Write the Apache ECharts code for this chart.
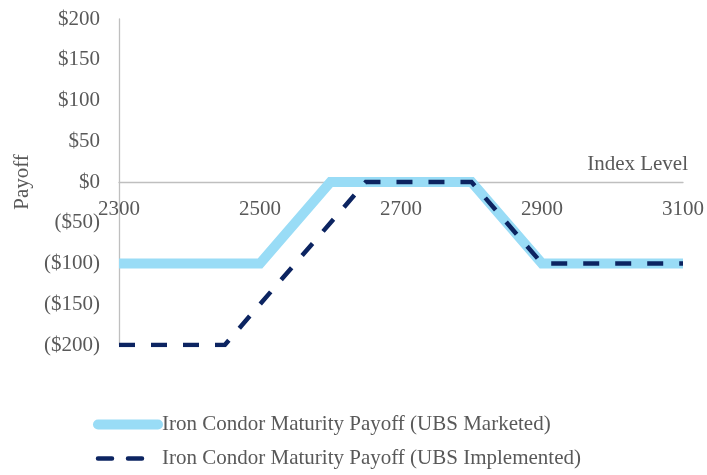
<!DOCTYPE html>
<html>
<head>
<meta charset="utf-8">
<script src="https://cdn.jsdelivr.net/npm/echarts@6/dist/echarts.min.js"></script>
<style>
  html, body { margin: 0; padding: 0; background: #fff; }
  #chart { width: 707px; height: 475px; }
</style>
</head>
<body>
<div id="chart"></div>
<script>
// Payoff profile at maturity for two iron condor structures
const seriesNames = [
  'Iron Condor Maturity Payoff (UBS Marketed)',
  'Iron Condor Maturity Payoff (UBS Implemented)'
];
const marketedIndex = [2300, 2500, 2600, 2800, 2900, 3100];
const marketedPayoff = [-100, -100, 0, 0, -100, -100];
const implementedIndex = [2300, 2450, 2650, 2800, 2900, 3100];
const implementedPayoff = [-200, -200, 0, 0, -100, -100];

const xMin = 2300, xMax = 3100, xStep = 200;
const yMin = -200, yMax = 200, yStep = 50;

const zip = (xs, ys) => xs.map((x, i) => [x, ys[i]]);

const fontFamily = '"Liberation Serif", "DejaVu Serif", serif';
const fontSize = 21;
const textColor = '#595959';
const axisColor = '#bfbfbf';
const lightBlue = '#99dcf6';
const navy = '#0c2461';

const money = v => v < 0 ? '($' + (-v) + ')' : '$' + v;

// plot area
const gridTop = 19, gridBottom = 130;
const gridHeight = 475 - gridTop - gridBottom;
// the index axis sits on the zero line of the payoff range
const zeroOffset = -gridHeight * (0 - yMin) / (yMax - yMin);

const chart = echarts.init(document.getElementById('chart'), null, { renderer: 'canvas' });
chart.setOption({
  animation: false,
  textStyle: { fontFamily: fontFamily },
  grid: { left: 119, right: 24, top: gridTop, bottom: gridBottom, containLabel: false },
  legend: {
    orient: 'vertical',
    left: 88,
    bottom: 1,
    itemWidth: 60,
    itemHeight: 12,
    itemGap: 13,
    itemStyle: { opacity: 0 },
    data: [
      { name: seriesNames[0], lineStyle: { width: 10, cap: 'round' } },
      { name: seriesNames[1], lineStyle: { width: 4.5, cap: 'round', type: [14, 16] } }
    ],
    textStyle: { fontFamily: fontFamily, fontSize: fontSize, color: textColor, padding: [0, 0, 0, -1] }
  },
  xAxis: {
    type: 'value',
    min: xMin, max: xMax, interval: xStep,
    offset: zeroOffset,
    name: 'Index Level',
    nameLocation: 'end',
    nameGap: 5,
    nameTextStyle: { fontFamily: fontFamily, fontSize: fontSize, color: textColor, align: 'right', verticalAlign: 'bottom', padding: [0, 0, 7, 0] },
    axisLine: { onZero: false, lineStyle: { color: axisColor, width: 1.3 } },
    axisTick: { show: false },
    splitLine: { show: false },
    axisLabel: { fontFamily: fontFamily, fontSize: fontSize, color: textColor, margin: 17, formatter: v => String(v) }
  },
  yAxis: {
    type: 'value',
    min: yMin, max: yMax, interval: yStep,
    name: 'Payoff',
    nameLocation: 'middle',
    nameGap: 85,
    nameRotate: 90,
    nameTextStyle: { fontFamily: fontFamily, fontSize: fontSize, color: textColor },
    axisLine: { show: true, lineStyle: { color: axisColor, width: 1.3 } },
    axisTick: { show: false },
    splitLine: { show: false },
    axisLabel: { fontFamily: fontFamily, fontSize: fontSize, color: textColor, margin: 19, formatter: money }
  },
  series: [
    {
      name: seriesNames[0],
      type: 'line',
      data: zip(marketedIndex, marketedPayoff),
      symbol: 'none',
      lineStyle: { color: lightBlue, width: 10, join: 'miter' },
      itemStyle: { color: lightBlue },
      z: 2
    },
    {
      name: seriesNames[1],
      type: 'line',
      data: zip(implementedIndex, implementedPayoff),
      symbol: 'none',
      lineStyle: { color: navy, width: 4.5, type: [16, 16], cap: 'butt', join: 'miter' },
      itemStyle: { color: navy },
      z: 3
    }
  ]
});
</script>
</body>
</html>
